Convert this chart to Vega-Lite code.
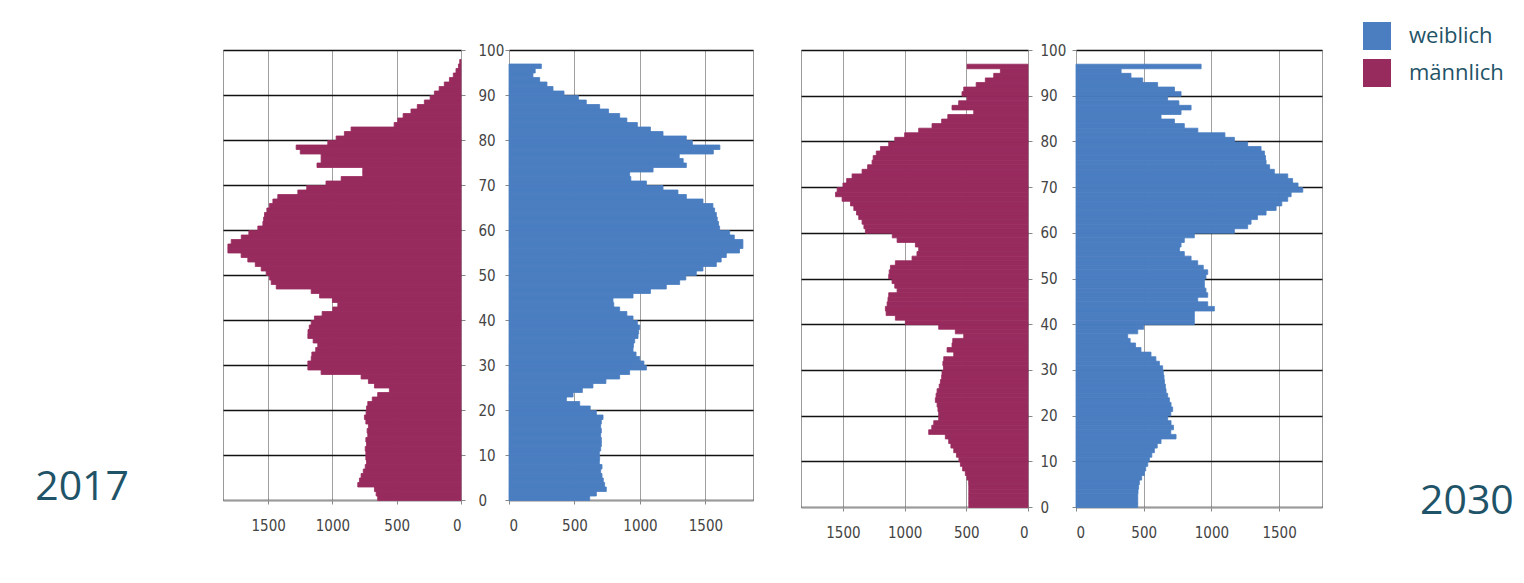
{
"$schema": "https://vega.github.io/schema/vega-lite/v6.json",
"background": "white",
"padding": {"left": 34, "top": 22, "right": 5, "bottom": 5},
"config": {
  "view": {"stroke": "#9a9a9a", "strokeWidth": 1},
  "axis": {"labelFont": "Liberation Sans Narrow, DejaVu Sans Condensed, sans-serif", "labelFontSize": 15, "labelColor": "#444444", "tickColor": "#888888", "domainColor": "#9a9a9a", "title": null}
},
"datasets": {
"m2017": [
{"sex":"männlich","age":0,"n":648},{"sex":"männlich","age":1,"n":660},{"sex":"männlich","age":2,"n":673},{"sex":"männlich","age":3,"n":803},{"sex":"männlich","age":4,"n":790},{"sex":"männlich","age":5,"n":777},{"sex":"männlich","age":6,"n":760},{"sex":"männlich","age":7,"n":745},{"sex":"männlich","age":8,"n":735},{"sex":"männlich","age":9,"n":740},
{"sex":"männlich","age":10,"n":740},{"sex":"männlich","age":11,"n":745},{"sex":"männlich","age":12,"n":735},{"sex":"männlich","age":13,"n":740},{"sex":"männlich","age":14,"n":725},{"sex":"männlich","age":15,"n":730},{"sex":"männlich","age":16,"n":720},{"sex":"männlich","age":17,"n":740},{"sex":"männlich","age":18,"n":751},{"sex":"männlich","age":19,"n":738},
{"sex":"männlich","age":20,"n":735},{"sex":"männlich","age":21,"n":725},{"sex":"männlich","age":22,"n":690},{"sex":"männlich","age":23,"n":648},{"sex":"männlich","age":24,"n":557},{"sex":"männlich","age":25,"n":673},{"sex":"männlich","age":26,"n":720},{"sex":"männlich","age":27,"n":777},{"sex":"männlich","age":28,"n":1088},{"sex":"männlich","age":29,"n":1191},
{"sex":"männlich","age":30,"n":1191},{"sex":"männlich","age":31,"n":1165},{"sex":"männlich","age":32,"n":1160},{"sex":"männlich","age":33,"n":1130},{"sex":"männlich","age":34,"n":1114},{"sex":"männlich","age":35,"n":1150},{"sex":"männlich","age":36,"n":1191},{"sex":"männlich","age":37,"n":1190},{"sex":"männlich","age":38,"n":1180},{"sex":"männlich","age":39,"n":1165},
{"sex":"männlich","age":40,"n":1140},{"sex":"männlich","age":41,"n":1080},{"sex":"männlich","age":42,"n":997},{"sex":"männlich","age":43,"n":958},{"sex":"männlich","age":44,"n":1000},{"sex":"männlich","age":45,"n":1100},{"sex":"männlich","age":46,"n":1165},{"sex":"männlich","age":47,"n":1437},{"sex":"männlich","age":48,"n":1476},{"sex":"männlich","age":49,"n":1490},
{"sex":"männlich","age":50,"n":1515},{"sex":"männlich","age":51,"n":1554},{"sex":"männlich","age":52,"n":1600},{"sex":"männlich","age":53,"n":1658},{"sex":"männlich","age":54,"n":1710},{"sex":"männlich","age":55,"n":1813},{"sex":"männlich","age":56,"n":1813},{"sex":"männlich","age":57,"n":1787},{"sex":"männlich","age":58,"n":1709},{"sex":"männlich","age":59,"n":1650},
{"sex":"männlich","age":60,"n":1580},{"sex":"männlich","age":61,"n":1541},{"sex":"männlich","age":62,"n":1535},{"sex":"männlich","age":63,"n":1528},{"sex":"männlich","age":64,"n":1510},{"sex":"männlich","age":65,"n":1490},{"sex":"männlich","age":66,"n":1463},{"sex":"männlich","age":67,"n":1425},{"sex":"männlich","age":68,"n":1269},{"sex":"männlich","age":69,"n":1200},
{"sex":"männlich","age":70,"n":1050},{"sex":"männlich","age":71,"n":932},{"sex":"männlich","age":72,"n":764},{"sex":"männlich","age":73,"n":764},{"sex":"männlich","age":74,"n":1120},{"sex":"männlich","age":75,"n":1088},{"sex":"männlich","age":76,"n":1088},{"sex":"männlich","age":77,"n":1250},{"sex":"männlich","age":78,"n":1282},{"sex":"männlich","age":79,"n":1036},
{"sex":"männlich","age":80,"n":971},{"sex":"männlich","age":81,"n":907},{"sex":"männlich","age":82,"n":855},{"sex":"männlich","age":83,"n":520},{"sex":"männlich","age":84,"n":492},{"sex":"männlich","age":85,"n":450},{"sex":"männlich","age":86,"n":389},{"sex":"männlich","age":87,"n":340},{"sex":"männlich","age":88,"n":285},{"sex":"männlich","age":89,"n":240},
{"sex":"männlich","age":90,"n":207},{"sex":"männlich","age":91,"n":170},{"sex":"männlich","age":92,"n":130},{"sex":"männlich","age":93,"n":90},{"sex":"männlich","age":94,"n":60},{"sex":"männlich","age":95,"n":39},{"sex":"männlich","age":96,"n":20},{"sex":"männlich","age":97,"n":10}
],
"w2017": [
{"sex":"weiblich","age":0,"n":616},{"sex":"weiblich","age":1,"n":667},{"sex":"weiblich","age":2,"n":743},{"sex":"weiblich","age":3,"n":730},{"sex":"weiblich","age":4,"n":720},{"sex":"weiblich","age":5,"n":710},{"sex":"weiblich","age":6,"n":700},{"sex":"weiblich","age":7,"n":710},{"sex":"weiblich","age":8,"n":690},{"sex":"weiblich","age":9,"n":692},
{"sex":"weiblich","age":10,"n":690},{"sex":"weiblich","age":11,"n":700},{"sex":"weiblich","age":12,"n":705},{"sex":"weiblich","age":13,"n":705},{"sex":"weiblich","age":14,"n":700},{"sex":"weiblich","age":15,"n":705},{"sex":"weiblich","age":16,"n":700},{"sex":"weiblich","age":17,"n":705},{"sex":"weiblich","age":18,"n":718},{"sex":"weiblich","age":19,"n":667},
{"sex":"weiblich","age":20,"n":620},{"sex":"weiblich","age":21,"n":540},{"sex":"weiblich","age":22,"n":438},{"sex":"weiblich","age":23,"n":489},{"sex":"weiblich","age":24,"n":560},{"sex":"weiblich","age":25,"n":641},{"sex":"weiblich","age":26,"n":740},{"sex":"weiblich","age":27,"n":845},{"sex":"weiblich","age":28,"n":921},{"sex":"weiblich","age":29,"n":1049},
{"sex":"weiblich","age":30,"n":1030},{"sex":"weiblich","age":31,"n":998},{"sex":"weiblich","age":32,"n":970},{"sex":"weiblich","age":33,"n":947},{"sex":"weiblich","age":34,"n":950},{"sex":"weiblich","age":35,"n":960},{"sex":"weiblich","age":36,"n":985},{"sex":"weiblich","age":37,"n":990},{"sex":"weiblich","age":38,"n":998},{"sex":"weiblich","age":39,"n":980},
{"sex":"weiblich","age":40,"n":947},{"sex":"weiblich","age":41,"n":900},{"sex":"weiblich","age":42,"n":845},{"sex":"weiblich","age":43,"n":800},{"sex":"weiblich","age":44,"n":794},{"sex":"weiblich","age":45,"n":947},{"sex":"weiblich","age":46,"n":1080},{"sex":"weiblich","age":47,"n":1201},{"sex":"weiblich","age":48,"n":1303},{"sex":"weiblich","age":49,"n":1350},
{"sex":"weiblich","age":50,"n":1430},{"sex":"weiblich","age":51,"n":1481},{"sex":"weiblich","age":52,"n":1583},{"sex":"weiblich","age":53,"n":1620},{"sex":"weiblich","age":54,"n":1659},{"sex":"weiblich","age":55,"n":1760},{"sex":"weiblich","age":56,"n":1786},{"sex":"weiblich","age":57,"n":1786},{"sex":"weiblich","age":58,"n":1720},{"sex":"weiblich","age":59,"n":1685},
{"sex":"weiblich","age":60,"n":1608},{"sex":"weiblich","age":61,"n":1600},{"sex":"weiblich","age":62,"n":1590},{"sex":"weiblich","age":63,"n":1583},{"sex":"weiblich","age":64,"n":1570},{"sex":"weiblich","age":65,"n":1557},{"sex":"weiblich","age":66,"n":1481},{"sex":"weiblich","age":67,"n":1354},{"sex":"weiblich","age":68,"n":1290},{"sex":"weiblich","age":69,"n":1176},
{"sex":"weiblich","age":70,"n":1049},{"sex":"weiblich","age":71,"n":930},{"sex":"weiblich","age":72,"n":921},{"sex":"weiblich","age":73,"n":1100},{"sex":"weiblich","age":74,"n":1354},{"sex":"weiblich","age":75,"n":1330},{"sex":"weiblich","age":76,"n":1300},{"sex":"weiblich","age":77,"n":1560},{"sex":"weiblich","age":78,"n":1610},{"sex":"weiblich","age":79,"n":1400},
{"sex":"weiblich","age":80,"n":1354},{"sex":"weiblich","age":81,"n":1176},{"sex":"weiblich","age":82,"n":1080},{"sex":"weiblich","age":83,"n":980},{"sex":"weiblich","age":84,"n":900},{"sex":"weiblich","age":85,"n":845},{"sex":"weiblich","age":86,"n":760},{"sex":"weiblich","age":87,"n":692},{"sex":"weiblich","age":88,"n":590},{"sex":"weiblich","age":89,"n":530},
{"sex":"weiblich","age":90,"n":420},{"sex":"weiblich","age":91,"n":336},{"sex":"weiblich","age":92,"n":290},{"sex":"weiblich","age":93,"n":234},{"sex":"weiblich","age":94,"n":183},{"sex":"weiblich","age":95,"n":200},{"sex":"weiblich","age":96,"n":247}
],
"m2030": [
{"sex":"männlich","age":0,"n":480},{"sex":"männlich","age":1,"n":480},{"sex":"männlich","age":2,"n":480},{"sex":"männlich","age":3,"n":480},{"sex":"männlich","age":4,"n":480},{"sex":"männlich","age":5,"n":481},{"sex":"männlich","age":6,"n":495},{"sex":"männlich","age":7,"n":508},{"sex":"männlich","age":8,"n":530},{"sex":"männlich","age":9,"n":548},
{"sex":"männlich","age":10,"n":560},{"sex":"männlich","age":11,"n":580},{"sex":"männlich","age":12,"n":602},{"sex":"männlich","age":13,"n":625},{"sex":"männlich","age":14,"n":643},{"sex":"männlich","age":15,"n":670},{"sex":"männlich","age":16,"n":805},{"sex":"männlich","age":17,"n":780},{"sex":"männlich","age":18,"n":764},{"sex":"männlich","age":19,"n":724},
{"sex":"männlich","age":20,"n":724},{"sex":"männlich","age":21,"n":730},{"sex":"männlich","age":22,"n":737},{"sex":"männlich","age":23,"n":751},{"sex":"männlich","age":24,"n":745},{"sex":"männlich","age":25,"n":737},{"sex":"männlich","age":26,"n":720},{"sex":"männlich","age":27,"n":710},{"sex":"männlich","age":28,"n":700},{"sex":"männlich","age":29,"n":697},
{"sex":"männlich","age":30,"n":685},{"sex":"männlich","age":31,"n":690},{"sex":"männlich","age":32,"n":683},{"sex":"männlich","age":33,"n":602},{"sex":"männlich","age":34,"n":656},{"sex":"männlich","age":35,"n":616},{"sex":"männlich","age":36,"n":610},{"sex":"männlich","age":37,"n":521},{"sex":"männlich","age":38,"n":589},{"sex":"männlich","age":39,"n":724},
{"sex":"männlich","age":40,"n":994},{"sex":"männlich","age":41,"n":1075},{"sex":"männlich","age":42,"n":1150},{"sex":"männlich","age":43,"n":1156},{"sex":"männlich","age":44,"n":1142},{"sex":"männlich","age":45,"n":1135},{"sex":"männlich","age":46,"n":1129},{"sex":"männlich","age":47,"n":1061},{"sex":"männlich","age":48,"n":1080},{"sex":"männlich","age":49,"n":1102},
{"sex":"männlich","age":50,"n":1129},{"sex":"männlich","age":51,"n":1125},{"sex":"männlich","age":52,"n":1115},{"sex":"männlich","age":53,"n":1075},{"sex":"männlich","age":54,"n":940},{"sex":"männlich","age":55,"n":900},{"sex":"männlich","age":56,"n":886},{"sex":"männlich","age":57,"n":913},{"sex":"männlich","age":58,"n":1061},{"sex":"männlich","age":59,"n":1100},
{"sex":"männlich","age":60,"n":1318},{"sex":"männlich","age":61,"n":1330},{"sex":"männlich","age":62,"n":1345},{"sex":"männlich","age":63,"n":1372},{"sex":"männlich","age":64,"n":1390},{"sex":"männlich","age":65,"n":1412},{"sex":"männlich","age":66,"n":1439},{"sex":"männlich","age":67,"n":1507},{"sex":"männlich","age":68,"n":1560},{"sex":"männlich","age":69,"n":1547},
{"sex":"männlich","age":70,"n":1500},{"sex":"männlich","age":71,"n":1470},{"sex":"männlich","age":72,"n":1426},{"sex":"männlich","age":73,"n":1345},{"sex":"männlich","age":74,"n":1300},{"sex":"männlich","age":75,"n":1264},{"sex":"männlich","age":76,"n":1255},{"sex":"männlich","age":77,"n":1230},{"sex":"männlich","age":78,"n":1196},{"sex":"männlich","age":79,"n":1129},
{"sex":"männlich","age":80,"n":1080},{"sex":"männlich","age":81,"n":1000},{"sex":"männlich","age":82,"n":886},{"sex":"männlich","age":83,"n":778},{"sex":"männlich","age":84,"n":700},{"sex":"männlich","age":85,"n":650},{"sex":"männlich","age":86,"n":440},{"sex":"männlich","age":87,"n":616},{"sex":"männlich","age":88,"n":562},{"sex":"männlich","age":89,"n":494},
{"sex":"männlich","age":90,"n":535},{"sex":"männlich","age":91,"n":521},{"sex":"männlich","age":92,"n":420},{"sex":"männlich","age":93,"n":346},{"sex":"männlich","age":94,"n":278},{"sex":"männlich","age":95,"n":224},{"sex":"männlich","age":96,"n":494}
],
"w2030": [
{"sex":"weiblich","age":0,"n":456},{"sex":"weiblich","age":1,"n":456},{"sex":"weiblich","age":2,"n":456},{"sex":"weiblich","age":3,"n":458},{"sex":"weiblich","age":4,"n":462},{"sex":"weiblich","age":5,"n":468},{"sex":"weiblich","age":6,"n":485},{"sex":"weiblich","age":7,"n":505},{"sex":"weiblich","age":8,"n":515},{"sex":"weiblich","age":9,"n":530},
{"sex":"weiblich","age":10,"n":542},{"sex":"weiblich","age":11,"n":560},{"sex":"weiblich","age":12,"n":579},{"sex":"weiblich","age":13,"n":600},{"sex":"weiblich","age":14,"n":628},{"sex":"weiblich","age":15,"n":739},{"sex":"weiblich","age":16,"n":700},{"sex":"weiblich","age":17,"n":720},{"sex":"weiblich","age":18,"n":702},{"sex":"weiblich","age":19,"n":677},
{"sex":"weiblich","age":20,"n":700},{"sex":"weiblich","age":21,"n":714},{"sex":"weiblich","age":22,"n":702},{"sex":"weiblich","age":23,"n":690},{"sex":"weiblich","age":24,"n":677},{"sex":"weiblich","age":25,"n":665},{"sex":"weiblich","age":26,"n":660},{"sex":"weiblich","age":27,"n":653},{"sex":"weiblich","age":28,"n":650},{"sex":"weiblich","age":29,"n":645},
{"sex":"weiblich","age":30,"n":640},{"sex":"weiblich","age":31,"n":616},{"sex":"weiblich","age":32,"n":590},{"sex":"weiblich","age":33,"n":554},{"sex":"weiblich","age":34,"n":480},{"sex":"weiblich","age":35,"n":440},{"sex":"weiblich","age":36,"n":400},{"sex":"weiblich","age":37,"n":382},{"sex":"weiblich","age":38,"n":456},{"sex":"weiblich","age":39,"n":500},
{"sex":"weiblich","age":40,"n":874},{"sex":"weiblich","age":41,"n":874},{"sex":"weiblich","age":42,"n":874},{"sex":"weiblich","age":43,"n":1022},{"sex":"weiblich","age":44,"n":973},{"sex":"weiblich","age":45,"n":899},{"sex":"weiblich","age":46,"n":973},{"sex":"weiblich","age":47,"n":960},{"sex":"weiblich","age":48,"n":948},{"sex":"weiblich","age":49,"n":948},
{"sex":"weiblich","age":50,"n":960},{"sex":"weiblich","age":51,"n":973},{"sex":"weiblich","age":52,"n":940},{"sex":"weiblich","age":53,"n":899},{"sex":"weiblich","age":54,"n":850},{"sex":"weiblich","age":55,"n":800},{"sex":"weiblich","age":56,"n":764},{"sex":"weiblich","age":57,"n":776},{"sex":"weiblich","age":58,"n":800},{"sex":"weiblich","age":59,"n":874},
{"sex":"weiblich","age":60,"n":1170},{"sex":"weiblich","age":61,"n":1268},{"sex":"weiblich","age":62,"n":1293},{"sex":"weiblich","age":63,"n":1340},{"sex":"weiblich","age":64,"n":1404},{"sex":"weiblich","age":65,"n":1478},{"sex":"weiblich","age":66,"n":1520},{"sex":"weiblich","age":67,"n":1564},{"sex":"weiblich","age":68,"n":1589},{"sex":"weiblich","age":69,"n":1675},
{"sex":"weiblich","age":70,"n":1640},{"sex":"weiblich","age":71,"n":1600},{"sex":"weiblich","age":72,"n":1564},{"sex":"weiblich","age":73,"n":1465},{"sex":"weiblich","age":74,"n":1430},{"sex":"weiblich","age":75,"n":1404},{"sex":"weiblich","age":76,"n":1400},{"sex":"weiblich","age":77,"n":1392},{"sex":"weiblich","age":78,"n":1367},{"sex":"weiblich","age":79,"n":1268},
{"sex":"weiblich","age":80,"n":1170},{"sex":"weiblich","age":81,"n":1100},{"sex":"weiblich","age":82,"n":900},{"sex":"weiblich","age":83,"n":800},{"sex":"weiblich","age":84,"n":727},{"sex":"weiblich","age":85,"n":628},{"sex":"weiblich","age":86,"n":776},{"sex":"weiblich","age":87,"n":850},{"sex":"weiblich","age":88,"n":760},{"sex":"weiblich","age":89,"n":677},
{"sex":"weiblich","age":90,"n":776},{"sex":"weiblich","age":91,"n":727},{"sex":"weiblich","age":92,"n":603},{"sex":"weiblich","age":93,"n":493},{"sex":"weiblich","age":94,"n":406},{"sex":"weiblich","age":95,"n":333},{"sex":"weiblich","age":96,"n":924}
]
},
"bounds": "flush",
"spacing": 48,
"hconcat": [
  {
    "data": {"name": "m2017"},
    "width": 238, "height": 450,
    "title": {"text": "2017", "orient": "left", "angle": 0, "anchor": "start", "align": "left", "baseline": "alphabetic", "dy": -33, "offset": 94, "fontSize": 41, "font": "Open Sans", "fontWeight": "normal", "color": "#1f5468"},
    "mark": {"type": "bar", "binSpacing": 0, "stroke": "#982b5e", "strokeWidth": 0.8},
    "encoding": {
      "y": {"field": "age", "type": "quantitative", "bin": {"step": 1, "extent": [0, 100]}, "scale": {"domain": [0, 100], "nice": false}, "axis": {"orient": "right", "values": [0,10,20,30,40,50,60,70,80,90,100], "grid": true, "gridColor": "#111111", "gridWidth": 1.5, "tickSize": 4, "labelPadding": 13, "domain": false}},
      "x": {"field": "n", "type": "quantitative", "scale": {"domain": [0, 1851], "reverse": true, "nice": false}, "axis": {"values": [0,500,1000,1500], "format": "d", "grid": true, "gridColor": "#a0a0a0", "tickSize": 4, "labelPadding": 14}},
      "color": {"field": "sex", "type": "nominal", "scale": {"domain": ["weiblich", "männlich"], "range": ["#4a7ec1", "#982b5e"]}, "legend": {"orient": "none", "legendX": 1140, "legendY": -28, "title": null, "symbolType": "square", "symbolSize": 784, "symbolStrokeWidth": 0, "symbolOpacity": 1, "labelFont": "Open Sans", "labelFontSize": 22, "labelColor": "#1f5468", "labelOffset": 18, "rowPadding": 9, "padding": 0}}
    }
  },
  {
    "data": {"name": "w2017"},
    "width": 244, "height": 450,
    "mark": {"type": "bar", "binSpacing": 0, "stroke": "#4a7ec1", "strokeWidth": 0.8},
    "encoding": {
      "y": {"field": "age", "type": "quantitative", "bin": {"step": 1, "extent": [0, 100]}, "scale": {"domain": [0, 100], "nice": false}, "axis": {"orient": "left", "values": [0,10,20,30,40,50,60,70,80,90,100], "labels": false, "grid": true, "gridColor": "#111111", "gridWidth": 1.5, "tickSize": 4, "domain": false}},
      "x": {"field": "n", "type": "quantitative", "scale": {"domain": [0, 1863], "nice": false}, "axis": {"values": [0,500,1000,1500], "format": "d", "grid": true, "gridColor": "#a0a0a0", "tickSize": 4, "labelPadding": 14}},
      "color": {"field": "sex", "type": "nominal", "scale": {"domain": ["weiblich", "männlich"], "range": ["#4a7ec1", "#982b5e"]}}
    }
  },
  {
    "data": {"name": "m2030"},
    "width": 227, "height": 457,
    "mark": {"type": "bar", "binSpacing": 0, "stroke": "#982b5e", "strokeWidth": 0.8},
    "encoding": {
      "y": {"field": "age", "type": "quantitative", "bin": {"step": 1, "extent": [0, 100]}, "scale": {"domain": [0, 100], "nice": false}, "axis": {"orient": "right", "values": [0,10,20,30,40,50,60,70,80,90,100], "grid": true, "gridColor": "#111111", "gridWidth": 1.5, "tickSize": 4, "labelPadding": 8, "domain": false}},
      "x": {"field": "n", "type": "quantitative", "scale": {"domain": [0, 1840], "reverse": true, "nice": false}, "axis": {"values": [0,500,1000,1500], "format": "d", "grid": true, "gridColor": "#a0a0a0", "tickSize": 4, "labelPadding": 14}},
      "color": {"field": "sex", "type": "nominal", "scale": {"domain": ["weiblich", "männlich"], "range": ["#4a7ec1", "#982b5e"]}}
    }
  },
  {
    "data": {"name": "w2030"},
    "width": 246, "height": 457,
    "title": {"text": "2030", "orient": "right", "angle": 0, "anchor": "end", "align": "right", "baseline": "alphabetic", "dy": -26, "offset": 98, "fontSize": 41, "font": "Open Sans", "fontWeight": "normal", "color": "#1f5468"},
    "mark": {"type": "bar", "binSpacing": 0, "stroke": "#4a7ec1", "strokeWidth": 0.8},
    "encoding": {
      "y": {"field": "age", "type": "quantitative", "bin": {"step": 1, "extent": [0, 100]}, "scale": {"domain": [0, 100], "nice": false}, "axis": {"orient": "left", "values": [0,10,20,30,40,50,60,70,80,90,100], "labels": false, "grid": true, "gridColor": "#111111", "gridWidth": 1.5, "tickSize": 4, "domain": false}},
      "x": {"field": "n", "type": "quantitative", "scale": {"domain": [0, 1817], "nice": false}, "axis": {"values": [0,500,1000,1500], "format": "d", "grid": true, "gridColor": "#a0a0a0", "tickSize": 4, "labelPadding": 14}},
      "color": {"field": "sex", "type": "nominal", "scale": {"domain": ["weiblich", "männlich"], "range": ["#4a7ec1", "#982b5e"]}}
    }
  }
]
}
